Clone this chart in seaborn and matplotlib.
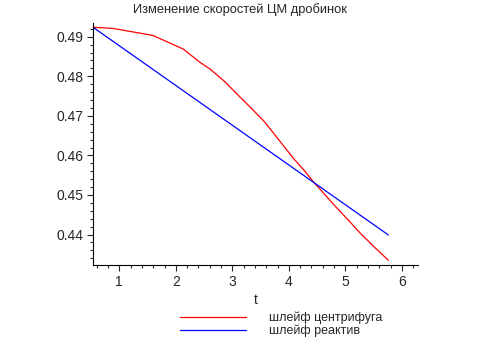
import numpy as np
import pandas as pd
import matplotlib
matplotlib.use("Agg")
import matplotlib.pyplot as plt
from matplotlib.ticker import MultipleLocator
import seaborn as sns

# values
t_centr = [0.535, 0.89, 1.37, 1.60, 2.13, 2.43, 2.61, 2.87, 3.14, 3.31, 3.57, 3.73, 4.08, 4.29,
           4.43, 4.85, 5.05, 5.26, 5.53, 5.76]
v_centr = [0.4924, 0.4921, 0.4909, 0.4903, 0.4869, 0.4835, 0.4818, 0.4786, 0.4747, 0.4723,
           0.4685, 0.4656, 0.4593, 0.4559, 0.4534, 0.4467, 0.4437, 0.4404, 0.4366, 0.4335]
t_react = [0.535, 5.76]
v_react = [0.4924, 0.4399]

lbl_centr = "шлейф центрифуга"
lbl_react = "шлейф реактив"

df = pd.concat([
    pd.DataFrame({"t": t_centr, "v": v_centr, "s": lbl_centr}),
    pd.DataFrame({"t": t_react, "v": v_react, "s": lbl_react}),
])

sns.set_style("white")
plt.rcParams["font.family"] = ["Liberation Sans", "DejaVu Sans"]

fig = plt.figure(figsize=(4.81, 3.58), dpi=100)
ax = fig.add_axes([93/481, 1-265/358, (417.7-93)/481, (265-23.3)/358])

sns.lineplot(data=df, x="t", y="v", hue="s", palette=["red", "blue"], sort=False,
             linewidth=0.9, ax=ax, legend=False)

ax.set_xlim(0.5345, 6.28)
ax.set_ylim(0.4323, 0.4934)
ax.xaxis.set_major_locator(MultipleLocator(1))
ax.xaxis.set_minor_locator(MultipleLocator(0.2))
ax.yaxis.set_major_locator(MultipleLocator(0.01))
ax.yaxis.set_minor_locator(MultipleLocator(0.002))
ax.yaxis.set_major_formatter(matplotlib.ticker.FormatStrFormatter("%.2f"))
ax.tick_params(which="major", length=4, width=0.8, labelsize=10, direction="out",
               bottom=True, left=True, pad=3)
ax.tick_params(which="minor", length=2, width=0.8, direction="out", bottom=True, left=True)
for side in ["top", "right"]:
    ax.spines[side].set_visible(False)
for side in ["left", "bottom"]:
    ax.spines[side].set_color("black")
    ax.spines[side].set_linewidth(0.8)

ax.set_xlabel("t", fontsize=10, labelpad=3)
ax.set_ylabel("")
fig.text(240/481, 1-10/358, "Изменение скоростей ЦМ дробинок", ha="center", va="center", fontsize=9.3)

handles = [plt.Line2D([], [], color="red", lw=0.9), plt.Line2D([], [], color="blue", lw=0.9)]
fig.legend(handles, [lbl_centr, lbl_react], loc="upper left", bbox_to_anchor=(180/481, 1-312/358),
           frameon=False, fontsize=9, handlelength=5.3, handletextpad=1.8, labelspacing=0.0,
           borderpad=0, borderaxespad=0)

fig.savefig("out.png", dpi=100)
